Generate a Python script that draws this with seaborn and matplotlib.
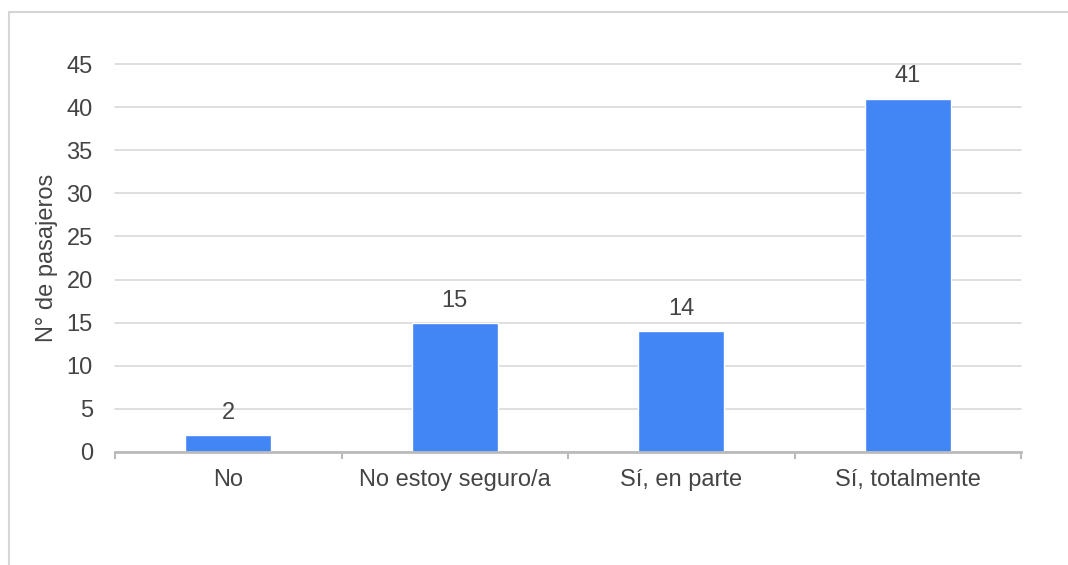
import matplotlib
matplotlib.use("Agg")
import matplotlib.pyplot as plt
import seaborn as sns
import pandas as pd
from matplotlib.lines import Line2D

# data
categories = ["No", "No estoy seguro/a", "Sí, en parte", "Sí, totalmente"]
pasajeros = [2, 15, 14, 41]
y_ticks = [0, 5, 10, 15, 20, 25, 30, 35, 40, 45]

df = pd.DataFrame({"respuesta": categories, "n": pasajeros})

sns.set_style("white")
plt.rcParams["font.family"] = ["Liberation Sans", "DejaVu Sans"]

fig = plt.figure(figsize=(10.68, 5.65), dpi=100)
ax = fig.add_axes([0.1077, 0.2, 0.8483, 0.6867])

sns.barplot(data=df, x="respuesta", y="n", color="#4285F4", saturation=1,
            width=0.38, ax=ax, zorder=3)

for i, v in enumerate(pasajeros):
    ax.annotate(str(v), (i, v), xytext=(0, 8), textcoords="offset points",
                ha="center", va="bottom", fontsize=17, color="#444444")

ax.set_ylim(0, 45)
ax.set_xlim(-0.5, len(categories) - 0.5)
ax.set_yticks(y_ticks)
ax.yaxis.grid(True, color="#d9d9d9", linewidth=1.2)
for gl in ax.get_ygridlines():
    gl.set_clip_on(False)
ax.set_axisbelow(True)

ax.set_xlabel("")
ax.set_ylabel("N° de pasajeros", fontsize=17, color="#444444", labelpad=6)
ax.tick_params(axis="y", length=0, pad=16, labelsize=17, labelcolor="#444444")
ax.tick_params(axis="x", which="major", bottom=True, length=0, pad=12,
               labelsize=17, labelcolor="#444444")
ax.set_xticks([i - 0.5 for i in range(len(categories) + 1)], minor=True)
ax.tick_params(axis="x", which="minor", bottom=True, length=5, width=1.5,
               color="#bbbbbb")

for s in ["top", "right", "left"]:
    ax.spines[s].set_visible(False)
ax.spines["bottom"].set_color("#bbbbbb")
ax.spines["bottom"].set_linewidth(2)
ax.spines["bottom"].set_zorder(4)

# light frame around the chart area (top and left edges visible in the reference)
fig.add_artist(Line2D([0.0084, 1.0], [0.9788, 0.9788], transform=fig.transFigure,
                      color="#d6d6d6", linewidth=1.5))
fig.add_artist(Line2D([0.0084, 0.0084], [0.0, 0.9788], transform=fig.transFigure,
                      color="#d6d6d6", linewidth=1.5))

fig.savefig("out.png", dpi=100)
